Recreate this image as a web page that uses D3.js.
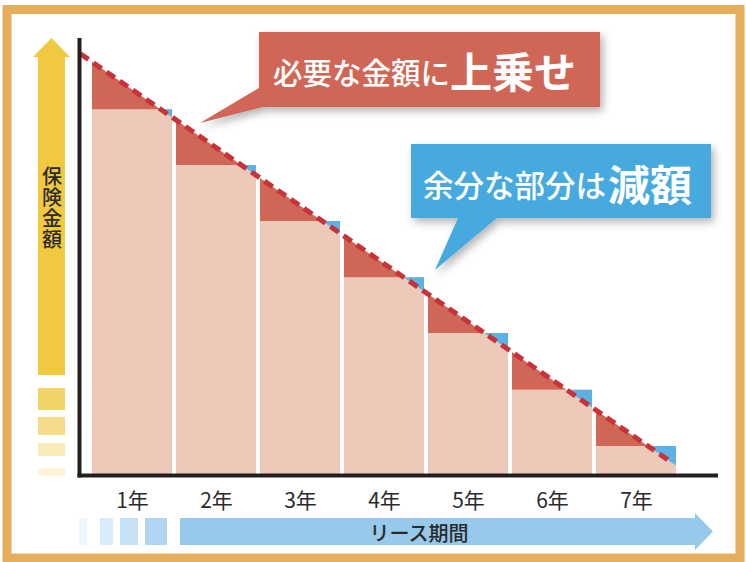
<!DOCTYPE html>
<html>
<head>
<meta charset="utf-8">
<script src="https://cdn.jsdelivr.net/npm/d3@7"></script>
<style>
  html, body { margin: 0; padding: 0; background: #fff; }
  svg { display: block; font-family: "Noto Sans CJK JP", "Noto Sans", sans-serif; }
</style>
</head>
<body>
<svg id="chart" width="746" height="562"></svg>
<script>
// Lease years shown along the bottom
const years = ["1年", "2年", "3年", "4年", "5年", "6年", "7年"];
// Insurance amount held for each lease year (step values)
const stepValues = [87.1, 73.8, 60.5, 47.1, 33.8, 20.3, 6.9];
// Required amount declining linearly over the lease (time in years, amount)
const lineTimes = [-0.14, 6.9];
const lineValues = [100.3, 3.0];
// Callout texts
const calloutUp = ["必要な金額に", "上乗せ"];
const calloutDown = ["余分な部分は", "減額"];
const yAxisTitle = "保険金額";
const xAxisTitle = "リース期間";

const svg = d3.select("#chart");

const C = {
  frame: "#e6ae5c",
  pink: "#ecc9b9",
  red: "#d06655",
  blue: "#5ab3e4",
  dash: "#c8323b",
  calloutRed: "#cf6656",
  calloutBlue: "#47aadf",
  yellow: "#f1c941",
  arrowBlue: "#97c9ea",
  ink: "#2b2b2b"
};

// Drop shadow for the callouts
const defs = svg.append("defs");
const f = defs.append("filter").attr("id", "shadow")
  .attr("x", "-10%").attr("y", "-20%").attr("width", "130%").attr("height", "160%");
f.append("feDropShadow").attr("dx", 3).attr("dy", 4).attr("stdDeviation", 4)
  .attr("flood-color", "#000").attr("flood-opacity", 0.3);

// Outer frame
svg.append("rect").attr("x", 7).attr("y", 9.5).attr("width", 733).attr("height", 548.5)
  .attr("fill", "#fff").attr("stroke", C.frame).attr("stroke-width", 9);

// Scales
const x = d3.scaleLinear().domain([0, 7]).range([92, 680]);
const y = d3.scaleLinear().domain([0, 100]).range([475, 55]);
const lineAt = d3.scaleLinear().domain(lineTimes).range(lineValues);
const gap = 4;

const plot = svg.append("g");

stepValues.forEach((s, i) => {
  const x0 = x(i), x1 = x(i + 1) - gap;
  const t0 = i, t1 = x.invert(x1);
  const ti = lineAt.invert(s);
  // base of the bar
  plot.append("rect").attr("x", x0).attr("y", y(s))
    .attr("width", x1 - x0).attr("height", y(0) - y(s)).attr("fill", C.pink);
  // shortfall above the step (needs top-up)
  plot.append("path").attr("fill", C.red)
    .attr("d", d3.line()([[x0, y(s)], [x0, y(lineAt(t0))], [x(ti), y(s)]]) + "Z");
  // surplus above the line (reduced)
  plot.append("path").attr("fill", C.blue)
    .attr("d", d3.line()([[x(ti), y(s)], [x1, y(s)], [x1, y(lineAt(t1))]]) + "Z");
});

// Required amount line
plot.append("path")
  .attr("d", d3.line()(lineTimes.map((t, k) => [x(t), y(lineValues[k])])))
  .attr("fill", "none").attr("stroke", C.dash).attr("stroke-width", 5)
  .attr("stroke-dasharray", "10 6");

// Axes lines
svg.append("line").attr("x1", 79.5).attr("x2", 79.5).attr("y1", 38).attr("y2", 477.5)
  .attr("stroke", "#231f1f").attr("stroke-width", 4);
svg.append("line").attr("x1", 77.5).attr("x2", 718).attr("y1", 475.5).attr("y2", 475.5)
  .attr("stroke", "#231f1f").attr("stroke-width", 4);

// Year labels
const xAxis = d3.axisBottom(x)
  .tickValues(years.map((_, i) => i + 0.5 - gap / 2 / 84))
  .tickFormat((d, i) => years[i])
  .tickSize(0).tickPadding(18);
const gx = svg.append("g").attr("transform", "translate(0,475)").call(xAxis);
gx.select(".domain").remove();
gx.selectAll("text").attr("font-size", 21).attr("fill", C.ink)
  .attr("font-family", "'Noto Sans CJK JP', sans-serif");

// Vertical (insurance amount) arrow
const ya = svg.append("g");
ya.append("path").attr("fill", C.yellow)
  .attr("d", "M38,375 V57 H33 L51.5,38 L70,57 H65 V375 Z");
[[388, 410, "#f2d466"], [417, 435, "#f4dc8a"], [443, 456, "#f8eab9"], [468, 476, "#fcf3d8"]]
  .forEach(([a, b, c]) => ya.append("rect").attr("x", 38).attr("y", a)
    .attr("width", 27).attr("height", b - a).attr("fill", c));
ya.append("text").attr("x", 52).attr("y", 166)
  .attr("writing-mode", "vertical-rl").attr("letter-spacing", 1)
  .attr("font-size", 20).attr("font-weight", 500).attr("fill", C.ink).text(yAxisTitle);

// Horizontal (lease period) arrow
const xa = svg.append("g");
[[79, 87, "#eef6fd"], [100, 113, "#d9ebf8"], [120, 138, "#c6e1f5"], [145, 167, "#b0d5f1"]]
  .forEach(([a, b, c]) => xa.append("rect").attr("x", a).attr("y", 518)
    .attr("width", b - a).attr("height", 27).attr("fill", c));
xa.append("path").attr("fill", C.arrowBlue)
  .attr("d", "M180,518 H695 V513 L713,531.5 L695,550 V545 H180 Z");
xa.append("text").attr("x", 419).attr("y", 532).attr("dominant-baseline", "central")
  .attr("text-anchor", "middle").attr("font-size", 20).attr("font-weight", 500)
  .attr("fill", C.ink).text(xAxisTitle);

// Callouts
const cu = svg.append("g");
cu.append("path").attr("fill", C.calloutRed).attr("filter", "url(#shadow)")
  .attr("d", "M259,32 H600 V107 H263 L200,123 L259,88 Z");
cu.append("text").attr("x", 273).attr("y", 71).attr("dominant-baseline", "central")
  .attr("font-size", 29.5).attr("font-weight", 500).attr("fill", "#fff").text(calloutUp[0]);
cu.append("text").attr("x", 450).attr("y", 69).attr("dominant-baseline", "central")
  .attr("font-size", 42).attr("font-weight", 700).attr("fill", "#fff").text(calloutUp[1]);

const cd = svg.append("g");
cd.append("path").attr("fill", C.calloutBlue).attr("filter", "url(#shadow)")
  .attr("d", "M411,144 H711 V218 H497 L435,270 L458,218 H411 Z");
cd.append("text").attr("x", 423).attr("y", 184).attr("dominant-baseline", "central")
  .attr("font-size", 30.5).attr("font-weight", 500).attr("fill", "#fff").text(calloutDown[0]);
cd.append("text").attr("x", 608).attr("y", 182).attr("dominant-baseline", "central")
  .attr("font-size", 42).attr("font-weight", 700).attr("fill", "#fff").text(calloutDown[1]);
</script>
</body>
</html>
